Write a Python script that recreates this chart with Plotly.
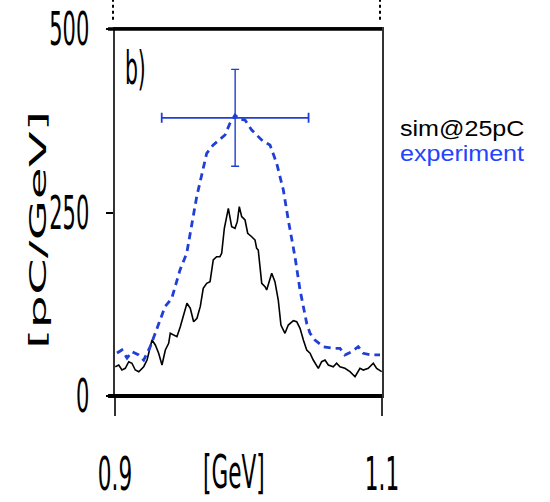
import json
import plotly.graph_objects as go

# ---- data ----
sim_x = [0.9002, 0.9028, 0.9052, 0.9077, 0.9103, 0.9127, 0.9152, 0.9178, 0.9215, 0.9240,
         0.9277, 0.9302, 0.9327, 0.9352, 0.9377, 0.9402, 0.9414, 0.9440, 0.9464, 0.9489,
         0.9515, 0.9539, 0.9564, 0.9589, 0.9614, 0.9639, 0.9661, 0.9687, 0.9712, 0.9736,
         0.9761, 0.9786, 0.9799, 0.9819, 0.9849, 0.9874, 0.9899, 0.9916, 0.9931, 0.9949,
         0.9974, 0.9994, 1.0024, 1.0049, 1.0061, 1.0073, 1.0099, 1.0124, 1.0136, 1.0174,
         1.0198, 1.0223, 1.0243, 1.0273, 1.0298, 1.0336, 1.0361, 1.0386, 1.0411, 1.0436,
         1.0461, 1.0485, 1.0523, 1.0548, 1.0573, 1.0598, 1.0635, 1.0660, 1.0685, 1.0722,
         1.0760, 1.0798, 1.0835, 1.0860, 1.0897, 1.0935, 1.0960, 1.0998]
sim_y = [39.9, 42.2, 35.4, 37.7, 46.7, 44.6, 35.4, 33.1, 39.9, 49.0,
         76.3, 69.5, 58.2, 42.2, 62.7, 71.8, 85.4, 83.1, 80.8, 94.4,
         112.7, 126.3, 119.5, 101.2, 105.9, 122.0, 146.7, 153.5, 155.7, 185.3,
         189.8, 189.8, 194.4, 228.5, 255.7, 230.7, 228.5, 237.5, 257.9, 244.3,
         239.8, 221.7, 217.0, 212.5, 201.2, 198.9, 153.5, 148.9, 144.4, 167.2,
         155.7, 130.8, 96.7, 85.4, 96.7, 102.6, 101.2, 92.2, 76.3, 62.7,
         58.2, 49.0, 37.7, 46.7, 49.0, 42.2, 39.9, 44.6, 39.9, 37.7,
         33.1, 26.3, 37.7, 35.4, 37.7, 44.6, 37.7, 33.1]

exp_x = [0.9015, 0.9052, 0.9090, 0.9127, 0.9178, 0.9215, 0.9264, 0.9302, 0.9375, 0.9425,
         0.9487, 0.9537, 0.9574, 0.9612, 0.9687, 0.9736, 0.9824, 0.9861, 0.9899, 0.9936,
         0.9974, 1.0024, 1.0111, 1.0161, 1.0211, 1.0261, 1.0298, 1.0348, 1.0386, 1.0436,
         1.0461, 1.0498, 1.0560, 1.0635, 1.0685, 1.0722, 1.0773, 1.0822, 1.0860, 1.0923,
         1.0985]
exp_y = [58.6, 62.7, 51.8, 60.4, 55.9, 49.0, 67.2, 85.4, 121.7, 133.1,
         171.7, 194.4, 235.3, 271.5, 330.7, 342.0, 355.6, 371.5, 382.8, 377.0,
         376.0, 362.4, 346.5, 342.0, 317.0, 280.7, 239.8, 189.8, 144.4, 99.0,
         85.4, 76.3, 67.2, 65.0, 65.0, 55.9, 60.4, 67.2, 58.2, 55.9,
         55.9]

err_x = [0.990]
err_y = [379]
err_dx = [0.055]
err_dy = [66]

x_ticks = [0.9, 1.1]
x_ticklabels = ["0.9", "1.1"]
y_ticks = [0, 250, 500]
y_ticklabels = ["0", "250", "500"]

BLUE = "#1f3fd6"
FONT = "DejaVu Sans, Verdana, sans-serif"
LEG = "Liberation Sans, Arial, sans-serif"

fig = go.Figure()
fig.add_trace(go.Scatter(x=sim_x, y=sim_y, mode="lines",
                         line=dict(color="black", width=1.6), showlegend=False))
fig.add_trace(go.Scatter(x=exp_x, y=exp_y, mode="lines",
                         line=dict(color=BLUE, width=2.8, dash="7px,5px"), showlegend=False))
fig.add_trace(go.Scatter(x=err_x, y=err_y, mode="markers",
                         marker=dict(size=3, color=BLUE),
                         error_x=dict(type="data", array=err_dx, color=BLUE, thickness=1.8, width=5),
                         error_y=dict(type="data", array=err_dy, color=BLUE, thickness=1.4, width=4),
                         showlegend=False))

fig.update_layout(
    width=550, height=502,
    margin=dict(l=115, r=168, t=29, b=106),
    paper_bgcolor="white", plot_bgcolor="white",
    xaxis=dict(range=[0.9, 1.1], tickvals=x_ticks, ticktext=x_ticklabels,
               ticks="outside", ticklen=18, tickwidth=1.5, tickcolor="#333",
               showgrid=False, zeroline=False, showline=True, mirror=True,
               linecolor="#333", linewidth=1.5, ticklabelstandoff=32, automargin=False,
               tickfont=dict(family=FONT, size=30, color="black")),
    yaxis=dict(range=[0, 500], tickvals=y_ticks, ticktext=y_ticklabels,
               ticks="outside", ticklen=7, tickwidth=2, tickcolor="black",
               showgrid=False, zeroline=False, showline=True, mirror=True,
               linecolor="#333", linewidth=1.5, ticklabelstandoff=11, automargin=False,
               tickfont=dict(family=FONT, size=30, color="black")),
    shapes=[
        dict(type="line", xref="paper", yref="paper", x0=-0.026, x1=1.0, y0=1, y1=1,
             line=dict(color="black", width=3.5)),
        dict(type="line", xref="paper", yref="paper", x0=-0.026, x1=1.0, y0=0, y1=0,
             line=dict(color="black", width=4)),
        dict(type="line", xref="paper", yref="paper", x0=-0.0075, x1=-0.0075, y0=1.025, y1=1.08,
             line=dict(color="black", width=2, dash="dot")),
        dict(type="line", xref="paper", yref="paper", x0=0.9925, x1=0.9925, y0=1.025, y1=1.08,
             line=dict(color="black", width=2, dash="dot")),
    ],
    annotations=[
        dict(text="[pC/GeV]", xref="paper", yref="paper", x=-0.290, y=0.452,
             textangle=-90, showarrow=False, xanchor="center", yanchor="middle",
             font=dict(family=FONT, size=34, color="black")),
        dict(text="[GeV]", xref="paper", yref="paper", x=0.446, y=-0.207,
             showarrow=False, xanchor="center", yanchor="middle",
             font=dict(family=FONT, size=30, color="black")),
        dict(text="b)", xref="paper", yref="paper", x=0.075, y=0.896,
             showarrow=False, xanchor="center", yanchor="middle",
             font=dict(family=FONT, size=30, color="black")),
        dict(text="sim@25pC", xref="paper", yref="paper", x=1.06, y=0.730,
             showarrow=False, xanchor="left", yanchor="middle",
             font=dict(family=LEG, size=22, color="black")),
        dict(text="experiment", xref="paper", yref="paper", x=1.06, y=0.662,
             showarrow=False, xanchor="left", yanchor="middle",
             font=dict(family=LEG, size=22, color="#2244ff")),
    ],
)

# per-text stretch (sx, sy, horizontal anchor fraction) to mimic the tall, narrow lettering
stretch = {
    "0": [0.7, 1.55, 1], "250": [0.7, 1.55, 1], "500": [0.7, 1.55, 1],
    "0.9": [0.72, 1.55, 0.5], "1.1": [0.72, 1.55, 0.5],
    "[GeV]": [0.72, 1.55, 0.5], "b)": [0.68, 1.55, 0.5],
    "[pC/GeV]": [1.55, 0.7, 0.5],
    "sim@25pC": [1.14, 1.0, 0], "experiment": [1.14, 1.0, 0],
}

post = """
var gd = document.getElementById('{plot_id}');
var specs = SPECS;
gd.querySelectorAll('text').forEach(function(t){
  var s = specs[t.textContent];
  if(!s || t.getAttribute('data-st')) return;
  var b = t.getBBox();
  var ax = b.x + b.width*s[2], ay = b.y + b.height/2;
  var tr = t.getAttribute('transform') || '';
  t.setAttribute('transform', tr + ' translate(' + ax + ',' + ay + ') scale(' + s[0] + ',' + s[1] + ') translate(' + (-ax) + ',' + (-ay) + ')');
  t.setAttribute('data-st', '1');
});
""".replace("SPECS", json.dumps(stretch))

fig.write_html("out.html", post_script=post)
